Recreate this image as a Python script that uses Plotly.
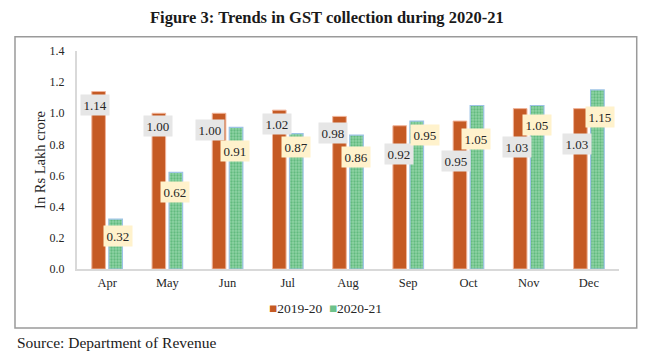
import plotly.graph_objects as go

months = ["Apr", "May", "Jun", "Jul", "Aug", "Sep", "Oct", "Nov", "Dec"]
gst_2019_20 = [1.14, 1.00, 1.00, 1.02, 0.98, 0.92, 0.95, 1.03, 1.03]
gst_2020_21 = [0.32, 0.62, 0.91, 0.87, 0.86, 0.95, 1.05, 1.05, 1.15]
y_ticks = [0.0, 0.2, 0.4, 0.6, 0.8, 1.0, 1.2, 1.4]
series_names = ["2019-20", "2020-21"]

# data-label placement (pixel offsets from category centre / bar top)
lab_dx_2019 = [-12, -9, -17.5, -11, -15, -9, -12, -12, -12]
lab_dy_2019 = [13.6, 12.5, 17, 14, 17, 28, 40, 38, 35.5]
lab_dx_2020 = [11, 7.7, 7.5, 8, 8, 17, 7.7, 8.8, 11.3]
lab_dy_2020 = [17, 20, 24, 13, 22, 14, 33, 19, 27]

SERIF = "Liberation Serif"
TXT = "#262626"
ORANGE = "#c55a24"
GREEN = "#8fd3a5"

fig = go.Figure()
fig.add_trace(go.Bar(
    x=months, y=gst_2019_20, name=series_names[0],
    marker=dict(color=ORANGE, line=dict(color="#f0b49a", width=1)),
))
fig.add_trace(go.Bar(
    x=months, y=gst_2020_21, name=series_names[1],
    marker=dict(color=GREEN, line=dict(color="#9dc3e6", width=1.2),
                pattern=dict(shape=".", fgcolor="#36a257", size=3,
                             solidity=0.45, fillmode="overlay")),
))

annotations = []
for i, m in enumerate(months):
    annotations.append(dict(
        x=m, y=gst_2019_20[i], xref="x", yref="y",
        text=f"{gst_2019_20[i]:.2f}", showarrow=False,
        xshift=lab_dx_2019[i], yshift=-lab_dy_2019[i],
        xanchor="center", yanchor="middle",
        bgcolor="#e6e6e6", borderpad=2.5,
        font=dict(family=SERIF, size=13, color=TXT),
    ))
    annotations.append(dict(
        x=m, y=gst_2020_21[i], xref="x", yref="y",
        text=f"{gst_2020_21[i]:.2f}", showarrow=False,
        xshift=lab_dx_2020[i], yshift=-lab_dy_2020[i],
        xanchor="center", yanchor="middle",
        bgcolor="#fff2cc", borderpad=2.5,
        font=dict(family=SERIF, size=13, color=TXT),
    ))

# title
annotations.append(dict(
    x=0.461, y=1.1516, xref="paper", yref="paper",
    text="<b>Figure 3: Trends in GST collection during 2020-21</b>",
    showarrow=False, xanchor="center", yanchor="middle", borderpad=0,
    font=dict(family=SERIF, size=16.5, color="#1a1a1a"),
))
# legend (compact, Excel-like)
annotations.append(dict(
    x=0.4576, y=-0.1805, xref="paper", yref="paper",
    text=(f"<span style='color:{ORANGE}'>■</span>{series_names[0]}"
          f"&nbsp;&nbsp;<span style='color:#6cc28a'>■</span>{series_names[1]}"),
    showarrow=False, xanchor="center", yanchor="middle",
    font=dict(family=SERIF, size=13.5, color=TXT),
))
# source line
annotations.append(dict(
    x=-0.1144, y=-0.335, xref="paper", yref="paper",
    text="Source: Department of Revenue", showarrow=False,
    xanchor="left", yanchor="middle",
    font=dict(family=SERIF, size=15.5, color="#1a1a1a"),
))

fig.update_layout(
    width=642, height=349,
    margin=dict(l=69, r=31, t=43, b=88.3),
    paper_bgcolor="white", plot_bgcolor="white",
    barmode="group", bargap=0.435, bargroupgap=0.2,
    showlegend=False,
    annotations=annotations,
    shapes=[dict(type="rect", xref="paper", yref="paper",
                 x0=-0.1144, x1=1.0327, y0=-0.271, y1=1.0657,
                 line=dict(color="#9a9a9a", width=1.5), layer="below")],
    font=dict(family=SERIF, size=12, color=TXT),
)
fig.update_yaxes(range=[0, 1.4], tickvals=y_ticks, tickformat=".1f",
                 showgrid=False, zeroline=False,
                 showline=True, linecolor="#d9d9d9", linewidth=2,
                 ticks="outside", ticklen=8, tickcolor="rgba(0,0,0,0)",
                 tickfont=dict(family=SERIF, size=12, color=TXT),
                 title=dict(text="In Rs Lakh crore", standoff=1,
                            font=dict(family=SERIF, size=14.5, color=TXT)))
fig.update_xaxes(showgrid=False, showline=True, linecolor="#d9d9d9", linewidth=2,
                 ticks="outside", ticklen=1, tickcolor="rgba(0,0,0,0)",
                 tickfont=dict(family=SERIF, size=12.5, color=TXT))

fig.write_html("out.html")
